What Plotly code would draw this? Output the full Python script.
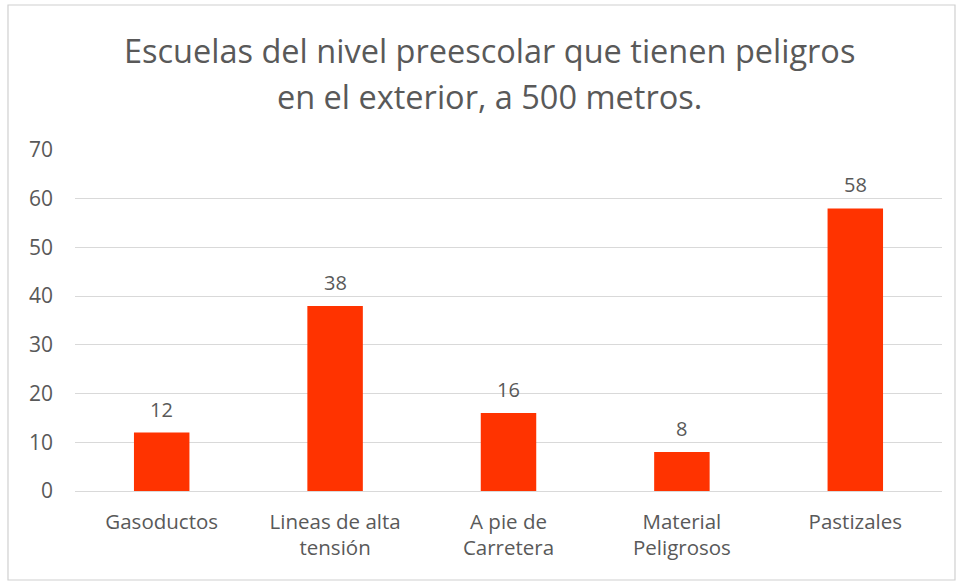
import plotly.graph_objects as go

categories = ["Gasoductos", "Lineas de alta<br>tensión", "A pie de<br>Carretera",
              "Material<br>Peligrosos", "Pastizales"]
values = [12, 38, 16, 8, 58]
y_ticks = [0, 10, 20, 30, 40, 50, 60, 70]
title_lines = ["Escuelas del nivel preescolar que tienen peligros",
               "en el exterior, a 500 metros."]

W, H = 961, 582
L, R, T, B = 75, 19, 150, 91
FONT = "Open Sans"
GRAY = "#595959"
BAR = "#FF3300"

pw, ph = W - L - R, H - T - B
def px_x(p): return (p - L) / pw
def px_y(p): return (H - B - p) / ph

fig = go.Figure(go.Bar(
    x=categories, y=values, marker_color=BAR, marker_line_width=0,
    hoverinfo="skip",
))

# value labels above each bar
for c, v in zip(categories, values):
    fig.add_annotation(x=c, y=v, text=str(v), showarrow=False,
                       yanchor="bottom", yshift=8,
                       font=dict(family=FONT, size=20, color=GRAY))

# two-line title, one annotation per line
for line, ypx in zip(title_lines, [50, 97]):
    fig.add_annotation(xref="paper", yref="paper", x=px_x(489), y=px_y(ypx),
                       text=line, showarrow=False, xanchor="center", yanchor="middle",
                       font=dict(family=FONT, size=32.5, color=GRAY))

# outer frame of the chart area
fig.add_shape(type="rect", xref="paper", yref="paper",
              x0=px_x(8), x1=px_x(955), y0=px_y(580), y1=px_y(5),
              line=dict(color="#d0d0d0", width=1.2), fillcolor="rgba(0,0,0,0)",
              layer="below")

fig.update_layout(
    width=W, height=H,
    margin=dict(l=L, r=R, t=T, b=B),
    paper_bgcolor="white", plot_bgcolor="white",
    bargap=0.68,
    showlegend=False,
    xaxis=dict(showgrid=False, showline=False, zeroline=False,
               tickfont=dict(family=FONT, size=20.5, color=GRAY),
               ticklabelstandoff=16),
    yaxis=dict(range=[0, 70], tickvals=y_ticks, showgrid=True,
               gridcolor="#d9d9d9", gridwidth=1, zeroline=True,
               zerolinecolor="#d9d9d9", zerolinewidth=1, showline=False,
               tickfont=dict(family=FONT, size=21, color=GRAY),
               ticklabelstandoff=21),
)

fig.write_html("out.html")
